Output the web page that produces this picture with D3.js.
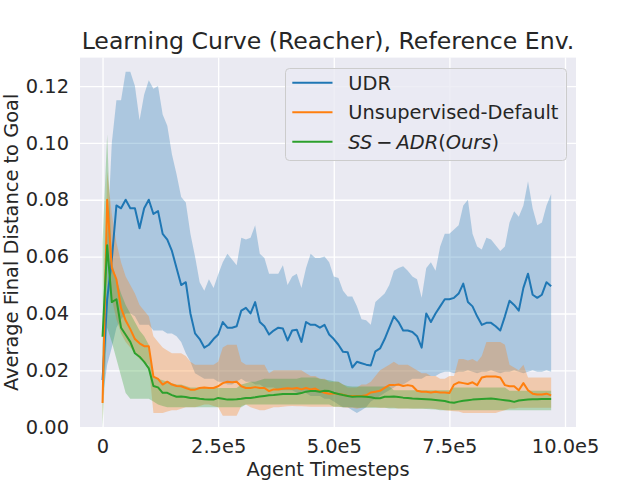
<!DOCTYPE html>
<html>
<head>
<meta charset="utf-8">
<script src="https://cdn.jsdelivr.net/npm/d3@7"></script>
<style>
  body { margin: 0; background: #fff; }
  svg { font-family: "DejaVu Sans", sans-serif; }
</style>
</head>
<body>
<svg id="chart"></svg>
<script>
// values, one sample every 1e4 agent timesteps
const udrMean = [
  0.0166, 0.045, 0.059, 0.078, 0.077, 0.080, 0.077, 0.077, 0.070, 0.077,
  0.080, 0.075, 0.076, 0.068, 0.066, 0.062, 0.056, 0.050, 0.051, 0.040,
  0.033, 0.031, 0.028, 0.029, 0.031, 0.0326, 0.037, 0.035, 0.035, 0.0355,
  0.041, 0.042, 0.040, 0.044, 0.037, 0.0355, 0.0326, 0.034, 0.035, 0.0347,
  0.0305, 0.034, 0.0343, 0.030, 0.037, 0.036, 0.036, 0.035, 0.036, 0.0326,
  0.031, 0.029, 0.0265, 0.0264, 0.021, 0.023, 0.0225, 0.022, 0.0217, 0.0267,
  0.0277, 0.031, 0.035, 0.039, 0.037, 0.034, 0.034, 0.0335, 0.032, 0.028,
  0.040, 0.037, 0.040, 0.0425, 0.045, 0.045, 0.0455, 0.047, 0.0505, 0.044,
  0.0425, 0.039, 0.036, 0.0367, 0.0367, 0.0355, 0.034, 0.039, 0.0445, 0.043,
  0.041, 0.049, 0.054, 0.0466, 0.0455, 0.0466, 0.051, 0.0496,
];
const udrUpper = [
  0.028, 0.065, 0.100, 0.115, 0.115, 0.125, 0.125, 0.120, 0.108, 0.117,
  0.122, 0.119, 0.120, 0.110, 0.106, 0.096, 0.089, 0.081, 0.079, 0.068,
  0.060, 0.051, 0.048, 0.052, 0.049, 0.0537, 0.058, 0.061, 0.059, 0.057,
  0.0666, 0.066, 0.0666, 0.071, 0.061, 0.0595, 0.054, 0.054, 0.054, 0.057,
  0.050, 0.053, 0.054, 0.049, 0.056, 0.061, 0.0595, 0.0595, 0.060, 0.058,
  0.053, 0.0525, 0.048, 0.046, 0.046, 0.0425, 0.038, 0.0376, 0.036, 0.044,
  0.0455, 0.047, 0.050, 0.055, 0.056, 0.0566, 0.055, 0.053, 0.052, 0.0455,
  0.056, 0.058, 0.055, 0.0636, 0.068, 0.068, 0.0695, 0.071, 0.078, 0.080,
  0.068, 0.0636, 0.0625, 0.0666, 0.066, 0.064, 0.062, 0.0636, 0.072, 0.076,
  0.074, 0.078, 0.0865, 0.077, 0.071, 0.072, 0.078, 0.082,
];
const udrLower = [
  0.010, 0.022, 0.028, 0.035, 0.038, 0.040, 0.040, 0.039, 0.036, 0.036,
  0.036, 0.034, 0.034, 0.034, 0.033, 0.033, 0.032, 0.030, 0.026, 0.023,
  0.019, 0.018, 0.017, 0.017, 0.017, 0.016, 0.016, 0.015, 0.015, 0.016,
  0.017, 0.016, 0.016, 0.015, 0.015, 0.014, 0.014, 0.014, 0.013, 0.013,
  0.013, 0.013, 0.012, 0.012, 0.012, 0.011, 0.011, 0.011, 0.010, 0.010,
  0.009, 0.008, 0.007, 0.007, 0.006, 0.005, 0.006, 0.007, 0.009, 0.010,
  0.011, 0.012, 0.013, 0.014, 0.015, 0.015, 0.016, 0.017, 0.017, 0.017,
  0.018, 0.018, 0.018, 0.019, 0.0195, 0.0195, 0.019, 0.0195, 0.0195, 0.020,
  0.0195, 0.019, 0.0195, 0.0195, 0.020, 0.0195, 0.019, 0.0195, 0.0195, 0.020,
  0.0195, 0.019, 0.0195, 0.020, 0.0195, 0.0195, 0.020, 0.0195,
];

const defaultMean = [
  0.0085, 0.080, 0.056, 0.052, 0.042, 0.0375, 0.0345, 0.031, 0.0295, 0.0285,
  0.0285, 0.0178, 0.0170, 0.0150, 0.0160, 0.0150, 0.0145, 0.0144, 0.0138, 0.0132,
  0.0132, 0.0138, 0.0140, 0.0138, 0.0138, 0.0144, 0.0155, 0.0160, 0.0158, 0.0160,
  0.0144, 0.0138, 0.0138, 0.0141, 0.0138, 0.0138, 0.0127, 0.0133, 0.0133, 0.0135,
  0.0137, 0.0135, 0.0138, 0.0133, 0.0138, 0.0133, 0.0136, 0.0127, 0.0121, 0.0118,
  0.0119, 0.0117, 0.0114, 0.0110, 0.0110, 0.0110, 0.0110, 0.0112, 0.0122, 0.0125,
  0.0128, 0.0138, 0.0148, 0.0148, 0.0150, 0.0145, 0.0148, 0.0145, 0.0128, 0.0125,
  0.0125, 0.0122, 0.0125, 0.0122, 0.0122, 0.0120, 0.0150, 0.0158, 0.0155, 0.0152,
  0.0158, 0.0148, 0.0175, 0.0178, 0.0178, 0.0178, 0.0175, 0.0148, 0.0144, 0.0144,
  0.0130, 0.0155, 0.0130, 0.0118, 0.0115, 0.0115, 0.0118, 0.0112,
];
const defaultUpper = [
  0.020, 0.090, 0.075, 0.065, 0.058, 0.053, 0.050, 0.047, 0.043, 0.041,
  0.039, 0.032, 0.030, 0.028, 0.027, 0.026, 0.026, 0.026, 0.025, 0.023,
  0.022, 0.022, 0.022, 0.022, 0.022, 0.023, 0.028, 0.029, 0.029, 0.029,
  0.023, 0.022, 0.022, 0.022, 0.022, 0.022, 0.019, 0.020, 0.020, 0.020,
  0.020, 0.020, 0.020, 0.020, 0.019, 0.018, 0.018, 0.017, 0.017, 0.016,
  0.016, 0.016, 0.015, 0.014, 0.014, 0.014, 0.015, 0.015, 0.016, 0.018,
  0.020, 0.021, 0.022, 0.023, 0.022, 0.022, 0.022, 0.021, 0.020, 0.019,
  0.019, 0.018, 0.018, 0.017, 0.017, 0.018, 0.018, 0.024, 0.024, 0.0235,
  0.024, 0.023, 0.025, 0.030, 0.030, 0.030, 0.030, 0.029, 0.022, 0.021,
  0.020, 0.022, 0.0175, 0.0175, 0.0175, 0.0175, 0.0175, 0.0175,
];
const defaultLower = [
  0.002, 0.065, 0.045, 0.038, 0.033, 0.030, 0.028, 0.026, 0.024, 0.023,
  0.022, 0.005, 0.005, 0.005, 0.0055, 0.006, 0.006, 0.0065, 0.007, 0.007,
  0.007, 0.0075, 0.008, 0.008, 0.0075, 0.007, 0.004, 0.004, 0.004, 0.004,
  0.0075, 0.008, 0.007, 0.0065, 0.006, 0.006, 0.0065, 0.007, 0.007, 0.0072,
  0.0074, 0.0075, 0.0074, 0.0074, 0.0073, 0.0072, 0.0072, 0.0072, 0.0072, 0.0072,
  0.0072, 0.0072, 0.007, 0.0068, 0.0068, 0.0065, 0.0068, 0.007, 0.007, 0.007,
  0.0068, 0.0068, 0.0068, 0.0068, 0.0066, 0.0066, 0.0066, 0.0066, 0.0066, 0.0066,
  0.0066, 0.0066, 0.0064, 0.0062, 0.006, 0.0058, 0.0056, 0.0055, 0.005, 0.005,
  0.005, 0.005, 0.005, 0.005, 0.005, 0.005, 0.0055, 0.006, 0.0066, 0.0066,
  0.0068, 0.0068, 0.0068, 0.0068, 0.0068, 0.0068, 0.0068, 0.0068,
];

const ssadrMean = [
  0.0318, 0.064, 0.044, 0.045, 0.035, 0.0325, 0.030, 0.026, 0.0248, 0.023,
  0.0207, 0.0145, 0.0140, 0.0121, 0.0121, 0.0113, 0.0107, 0.0108, 0.0106, 0.0103,
  0.0103, 0.0100, 0.0098, 0.0097, 0.0097, 0.0103, 0.0100, 0.0097, 0.0097, 0.0098,
  0.0100, 0.0103, 0.0103, 0.0105, 0.0108, 0.0110, 0.0112, 0.0113, 0.0115, 0.0117,
  0.0117, 0.0117, 0.0117, 0.0120, 0.0125, 0.0127, 0.0127, 0.0125, 0.0128, 0.0127,
  0.0121, 0.0117, 0.0113, 0.0110, 0.0107, 0.0108, 0.0108, 0.0107, 0.0105, 0.0102,
  0.0102, 0.0107, 0.0107, 0.0108, 0.0106, 0.0104, 0.0103, 0.0101, 0.0100, 0.0099,
  0.0098, 0.0097, 0.0096, 0.0094, 0.0092, 0.0088, 0.0086, 0.0090, 0.0093, 0.0095,
  0.0097, 0.0098, 0.0099, 0.0100, 0.0101, 0.0099, 0.0097, 0.0095, 0.0093, 0.0089,
  0.0094, 0.0096, 0.0097, 0.0098, 0.0098, 0.0099, 0.0099, 0.0099,
];
const ssadrUpper = [
  0.065, 0.103, 0.058, 0.052, 0.047, 0.043, 0.040, 0.037, 0.034, 0.032,
  0.029, 0.018, 0.017, 0.0165, 0.016, 0.0155, 0.015, 0.015, 0.0145, 0.014,
  0.014, 0.014, 0.014, 0.014, 0.014, 0.0138, 0.0138, 0.0138, 0.0138, 0.0138,
  0.015, 0.0155, 0.016, 0.016, 0.0165, 0.017, 0.017, 0.017, 0.017, 0.017,
  0.017, 0.017, 0.017, 0.0175, 0.0175, 0.0175, 0.0175, 0.017, 0.0168, 0.0165,
  0.0162, 0.016, 0.015, 0.0145, 0.0143, 0.0143, 0.0143, 0.0143, 0.0143, 0.0143,
  0.0143, 0.0143, 0.0143, 0.013, 0.013, 0.013, 0.013, 0.013, 0.013, 0.013,
  0.013, 0.013, 0.013, 0.013, 0.013, 0.013, 0.014, 0.014, 0.014, 0.014,
  0.014, 0.014, 0.014, 0.014, 0.014, 0.014, 0.014, 0.014, 0.0128, 0.0128,
  0.0128, 0.0128, 0.0128, 0.0128, 0.0128, 0.0128, 0.0128, 0.0128,
];
const ssadrLower = [
  0.000, 0.035, 0.030, 0.024, 0.018, 0.012, 0.010, 0.010, 0.010, 0.010,
  0.010, 0.009, 0.008, 0.0075, 0.007, 0.007, 0.007, 0.007, 0.007, 0.007,
  0.007, 0.007, 0.007, 0.007, 0.007, 0.007, 0.007, 0.007, 0.007, 0.007,
  0.007, 0.008, 0.008, 0.008, 0.008, 0.008, 0.008, 0.008, 0.008, 0.008,
  0.008, 0.008, 0.008, 0.008, 0.008, 0.008, 0.008, 0.008, 0.008, 0.008,
  0.0072, 0.0072, 0.007, 0.007, 0.007, 0.0068, 0.0068, 0.0068, 0.0068, 0.0068,
  0.0068, 0.0068, 0.0066, 0.0066, 0.0066, 0.0066, 0.0066, 0.0065, 0.0065, 0.0065,
  0.0064, 0.0063, 0.0062, 0.006, 0.006, 0.006, 0.006, 0.006, 0.006, 0.006,
  0.006, 0.006, 0.006, 0.006, 0.006, 0.006, 0.006, 0.006, 0.006, 0.006,
  0.006, 0.006, 0.006, 0.006, 0.006, 0.006, 0.006, 0.006,
];

const logEvery = 10000;
const seriesNames = ["UDR", "Unsupervised-Default", "$SS-ADR(Ours)$"];
const xTicks = [0, 250000, 500000, 750000, 1000000];
const xTickLabels = ["0", "2.5e5", "5.0e5", "7.5e5", "10.0e5"];
const yTicks = [0, 0.02, 0.04, 0.06, 0.08, 0.1, 0.12];

const colors = ["#1f77b4", "#ff7f0e", "#2ca02c"];
const textColor = "#262626";
const fontSize = 19.4;

const width = 640;
const height = 480;
const margin = { top: 57.6, right: 64, bottom: 52.8, left: 80 };

const series = [
  { mean: udrMean, lower: udrLower, upper: udrUpper },
  { mean: defaultMean, lower: defaultLower, upper: defaultUpper },
  { mean: ssadrMean, lower: ssadrLower, upper: ssadrUpper },
].map((s, k) => ({ ...s, name: seriesNames[k], color: colors[k] }));

const svg = d3.select("#chart").attr("width", width).attr("height", height);

// matplotlib-style 5% margin around the logged range (last point ~9.75e5)
const dataEnd = 975000;
const pad = 0.05 * dataEnd;
const x = d3
  .scaleLinear()
  .domain([-pad, dataEnd + pad])
  .range([margin.left, width - margin.right]);
const y = d3
  .scaleLinear()
  .domain([0, 0.13])
  .range([height - margin.bottom, margin.top]);

const plotW = width - margin.left - margin.right;
const plotH = height - margin.top - margin.bottom;

svg
  .append("rect")
  .attr("x", margin.left)
  .attr("y", margin.top)
  .attr("width", plotW)
  .attr("height", plotH)
  .attr("fill", "#eaeaf2");

// Axes (tick lines double as the white grid)
const gx = svg
  .append("g")
  .attr("transform", `translate(0,${height - margin.bottom})`)
  .call(
    d3
      .axisBottom(x)
      .tickValues(xTicks)
      .tickFormat((d, i) => xTickLabels[i])
      .tickSize(-plotH)
      .tickPadding(12.3)
  );
const gy = svg
  .append("g")
  .attr("transform", `translate(${margin.left},0)`)
  .call(
    d3
      .axisLeft(y)
      .tickValues(yTicks)
      .tickFormat(d3.format(".2f"))
      .tickSize(-plotW)
      .tickPadding(11)
  );

[gx, gy].forEach((g) => {
  g.select(".domain").remove();
  g.selectAll(".tick line").attr("stroke", "#fff").attr("stroke-width", 1.3);
  g.selectAll(".tick text")
    .attr("fill", textColor)
    .style("font-size", `${fontSize}px`)
    .style("font-family", "DejaVu Sans");
});

const area = d3
  .area()
  .x((d, i) => x(i * logEvery))
  .y0((d) => y(d[0]))
  .y1((d) => y(d[1]));
const line = d3
  .line()
  .x((d, i) => x(i * logEvery))
  .y((d) => y(d));

const plot = svg.append("g");

series.forEach((s) => {
  plot
    .append("path")
    .datum(s.lower.map((v, i) => [v, s.upper[i]]))
    .attr("d", area)
    .attr("fill", s.color)
    .attr("fill-opacity", 0.3);
});

series.forEach((s) => {
  plot
    .append("path")
    .datum(s.mean)
    .attr("d", line)
    .attr("fill", "none")
    .attr("stroke", s.color)
    .attr("stroke-width", 2)
    .attr("stroke-linejoin", "round");
});

// Title and axis labels
svg
  .append("text")
  .attr("x", margin.left + plotW / 2)
  .attr("y", 49.3)
  .attr("text-anchor", "middle")
  .attr("fill", textColor)
  .style("font-size", "23.6px")
  .text("Learning Curve (Reacher), Reference Env.");

svg
  .append("text")
  .attr("x", margin.left + plotW / 2)
  .attr("y", 475.7)
  .attr("text-anchor", "middle")
  .attr("fill", textColor)
  .style("font-size", `${fontSize}px`)
  .text("Agent Timesteps");

svg
  .append("text")
  .attr("transform", `translate(18,${margin.top + plotH / 2}) rotate(-90)`)
  .attr("text-anchor", "middle")
  .attr("fill", textColor)
  .style("font-size", `${fontSize}px`)
  .text("Average Final Distance to Goal");

// Legend
const legend = svg.append("g").attr("transform", "translate(285.5,68.5)");
legend
  .append("rect")
  .attr("width", 281)
  .attr("height", 92)
  .attr("rx", 4)
  .attr("fill", "#eaeaf2")
  .attr("fill-opacity", 0.8)
  .attr("stroke", "#cccccc");

function addLabel(sel, label) {
  // "$...$" labels are drawn like matplotlib mathtext: italic letters, spaced minus
  if (!label.startsWith("$")) {
    sel.text(label);
    return;
  }
  const parts = label.slice(1, -1).split(/([A-Za-z]+|-)/).filter((p) => p);
  let gap = 0;
  parts.forEach((p) => {
    const t = sel.append("tspan").attr("dx", gap);
    gap = 0;
    if (p === "-") {
      t.attr("dx", 4).text("\u2212");
      gap = 4;
    } else {
      t.text(p).style("font-style", /[A-Za-z]/.test(p) ? "italic" : "normal");
    }
  });
}

series.forEach((s, k) => {
  const ly = 14.2 + k * 29.5;
  legend
    .append("line")
    .attr("x1", 6.8)
    .attr("x2", 47)
    .attr("y1", ly)
    .attr("y2", ly)
    .attr("stroke", s.color)
    .attr("stroke-width", 2);
  const t = legend
    .append("text")
    .attr("x", 62.8)
    .attr("y", ly + 7)
    .attr("fill", textColor)
    .style("font-size", `${fontSize}px`);
  addLabel(t, s.name);
});
</script>
</body>
</html>
